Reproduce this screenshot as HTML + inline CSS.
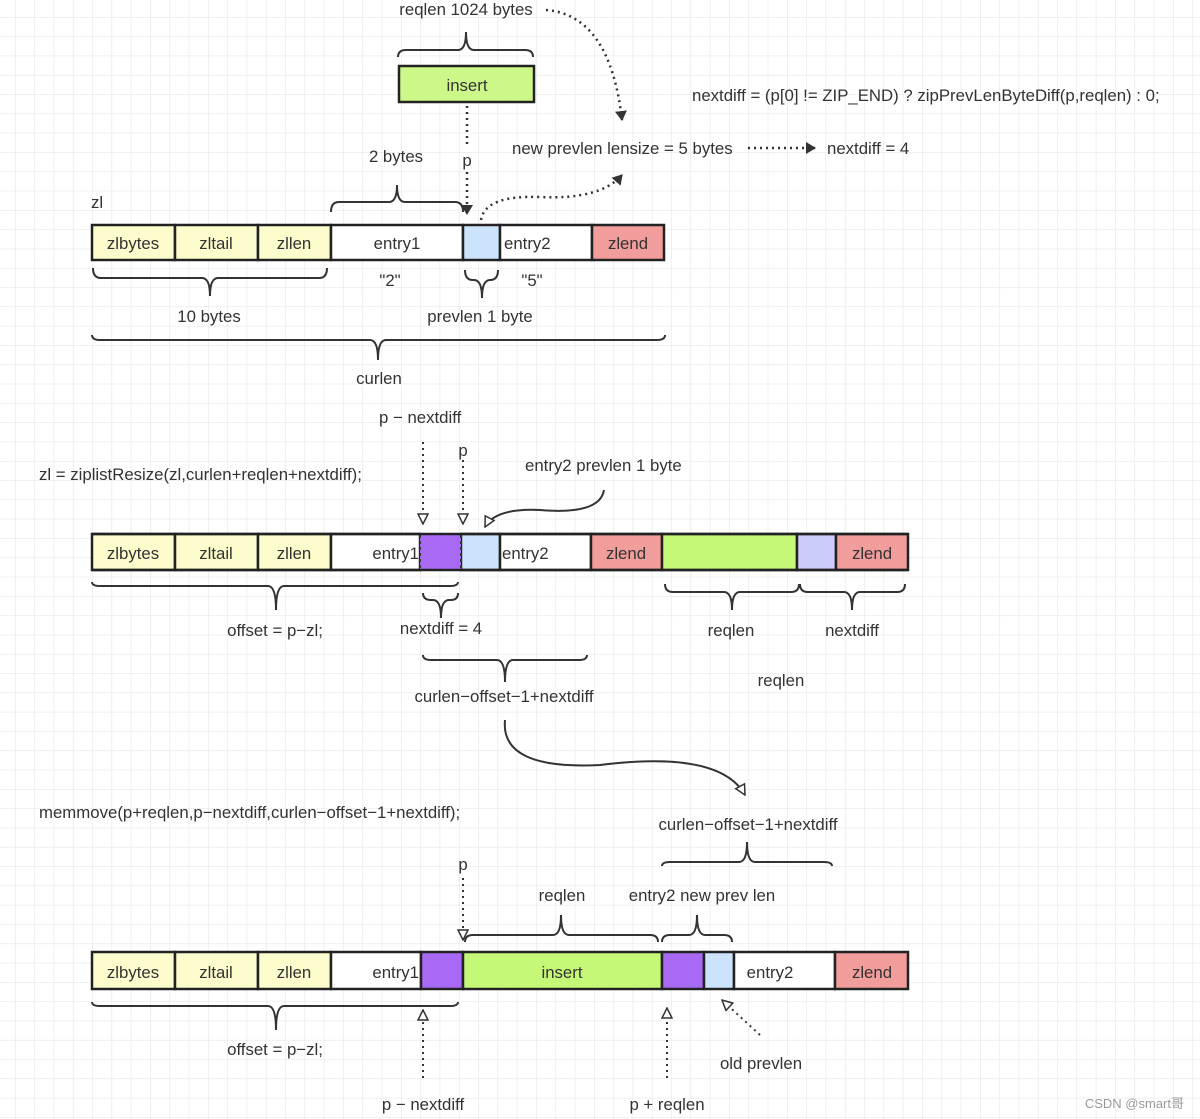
<!DOCTYPE html>
<html><head><meta charset="utf-8"><style>
html,body{margin:0;padding:0;background:#fff}
svg{display:block}
text{font-family:"Liberation Sans",sans-serif;font-size:16.8px;fill:#333}
.b{fill:none;stroke:#333;stroke-width:2}
.bx{stroke:#222;stroke-width:2.5}
</style></head><body>
<svg width="1200" height="1119" viewBox="0 0 1200 1119" xmlns="http://www.w3.org/2000/svg">
<defs>
<pattern id="g" x="15" y="17" width="19.3" height="19.3" patternUnits="userSpaceOnUse">
<path d="M0 0H19.3M0 0V19.3" stroke="#e6e6e6" stroke-width="1.2" fill="none"/>
</pattern>
<marker id="af" markerWidth="10" markerHeight="12" refX="9" refY="6" orient="auto" markerUnits="userSpaceOnUse"><path d="M0 0L10 6L0 12z" fill="#333"/></marker>
<marker id="ah" markerWidth="12" markerHeight="12" refX="11" refY="6" orient="auto" markerUnits="userSpaceOnUse"><path d="M1 1L11 6L1 11z" fill="#fff" stroke="#333" stroke-width="1.5"/></marker>
</defs>
<rect width="1200" height="1119" fill="url(#g)"/>

<!-- Row 1 -->
<rect x="399" y="66" width="135" height="36" fill="#ccf88a" class="bx"/>
<text x="467" y="91" text-anchor="middle">insert</text>
<g class="bx">
<rect x="92" y="225" width="83" height="35" fill="#fcfccc"/>
<rect x="175" y="225" width="83" height="35" fill="#fcfccc"/>
<rect x="258" y="225" width="73" height="35" fill="#fcfccc"/>
<rect x="331" y="225" width="132" height="35" fill="#fff"/>
<rect x="463" y="225" width="37" height="35" fill="#cce4fb"/>
<rect x="500" y="225" width="92" height="35" fill="#fff"/>
<rect x="592" y="225" width="72" height="35" fill="#f19d9b"/>
</g>
<text x="133" y="249" text-anchor="middle">zlbytes</text>
<text x="216" y="249" text-anchor="middle">zltail</text>
<text x="294" y="249" text-anchor="middle">zllen</text>
<text x="397" y="249" text-anchor="middle">entry1</text>
<text x="504" y="249">entry2</text>
<text x="628" y="249" text-anchor="middle">zlend</text>

<text x="466" y="15" text-anchor="middle">reqlen 1024 bytes</text>
<text x="692" y="101">nextdiff = (p[0] != ZIP_END) ? zipPrevLenByteDiff(p,reqlen) : 0;</text>
<text x="512" y="154">new prevlen lensize = 5 bytes</text>
<text x="827" y="154">nextdiff = 4</text>
<text x="396" y="162" text-anchor="middle">2 bytes</text>
<text x="467" y="166" text-anchor="middle">p</text>
<text x="91" y="208">zl</text>
<text x="390" y="286" text-anchor="middle">"2"</text>
<text x="532" y="286" text-anchor="middle">"5"</text>
<text x="209" y="322" text-anchor="middle">10 bytes</text>
<text x="480" y="322" text-anchor="middle">prevlen 1 byte</text>
<text x="379" y="384" text-anchor="middle">curlen</text>

<path class="b" d="M398 57Q398 50 406 50L458 50Q466 50 466 32Q466 50 474 50L525 50Q533 50 533 57"/>
<path class="b" d="M331 212Q331 202 339 202L389 202Q397 202 397 185Q397 202 405 202L455 202Q463 202 463 212"/>
<path class="b" d="M93 268Q93 278 101 278L202 278Q210 278 210 296Q210 278 218 278L319 278Q327 278 327 268"/>
<path class="b" d="M465 270Q465 280 473 280L474 280Q482 280 482 298Q482 280 490 280L490 280Q498 280 498 270"/>
<path class="b" d="M92 335Q92 340 100 340L370 340Q378 340 378 360Q378 340 386 340L657 340Q665 340 665 335"/>

<path d="M467 106L467 146" stroke="#333" stroke-width="2.5" stroke-dasharray="2 4" fill="none"/>
<path d="M467 172L467 214" stroke="#333" stroke-width="2.5" stroke-dasharray="2 4" fill="none" marker-end="url(#af)"/>
<path d="M546 10Q610 15 622 120" stroke="#333" stroke-width="2.5" stroke-dasharray="2 4" fill="none" marker-end="url(#af)"/>
<path d="M481 220Q485 195 540 197Q600 200 622 175" stroke="#333" stroke-width="2.5" stroke-dasharray="2 4" fill="none" marker-end="url(#af)"/>
<path d="M748 148L815 148" stroke="#333" stroke-width="2.5" stroke-dasharray="2 4" fill="none" marker-end="url(#af)"/>

<!-- Row 2 -->
<text x="379" y="423">p − nextdiff</text>
<text x="463" y="456" text-anchor="middle">p</text>
<text x="39" y="480">zl = ziplistResize(zl,curlen+reqlen+nextdiff);</text>
<text x="525" y="471">entry2 prevlen 1 byte</text>
<g class="bx">
<rect x="92" y="534" width="83" height="36" fill="#fcfccc"/>
<rect x="175" y="534" width="83" height="36" fill="#fcfccc"/>
<rect x="258" y="534" width="73" height="36" fill="#fcfccc"/>
<rect x="331" y="534" width="89" height="36" fill="#fff"/>
<rect x="461" y="534" width="39" height="36" fill="#cce4fb"/>
<rect x="500" y="534" width="91" height="36" fill="#fff"/>
<rect x="591" y="534" width="71" height="36" fill="#f19d9b"/>
<rect x="662" y="534" width="135" height="36" fill="#c6f878"/>
<rect x="797" y="534" width="39" height="36" fill="#ccccfb"/>
<rect x="836" y="534" width="72" height="36" fill="#f19d9b"/>
</g>
<rect x="420" y="534" width="41" height="36" fill="#a86af5" stroke="#333" stroke-width="2" stroke-dasharray="3 3"/>
<line x1="92" y1="534" x2="908" y2="534" stroke="#222" stroke-width="2.5"/>
<line x1="92" y1="570" x2="908" y2="570" stroke="#222" stroke-width="2.5"/>
<text x="133" y="559" text-anchor="middle">zlbytes</text>
<text x="216" y="559" text-anchor="middle">zltail</text>
<text x="294" y="559" text-anchor="middle">zllen</text>
<text x="419" y="559" text-anchor="end">entry1</text>
<text x="502" y="559">entry2</text>
<text x="626" y="559" text-anchor="middle">zlend</text>
<text x="872" y="559" text-anchor="middle">zlend</text>

<path d="M423 442L423 524" stroke="#333" stroke-width="2" stroke-dasharray="2 4" fill="none" marker-end="url(#ah)"/>
<path d="M463 460L463 524" stroke="#333" stroke-width="2" stroke-dasharray="2 4" fill="none" marker-end="url(#ah)"/>
<path d="M604 490Q600 515 540 510Q495 508 485 527" stroke="#333" stroke-width="2" fill="none" marker-end="url(#ah)"/>

<path class="b" d="M92 582Q92 586 100 586L268 586Q276 586 276 610Q276 586 284 586L450 586Q458 586 458 582"/>
<path class="b" d="M423 593Q423 600 431 600L433 600Q441 600 441 618Q441 600 449 600L451 600Q458 600 458 593"/>
<path class="b" d="M665 584Q665 592 673 592L724 592Q732 592 732 610Q732 592 740 592L791 592Q799 592 799 584"/>
<path class="b" d="M800 584Q800 592 808 592L844 592Q852 592 852 610Q852 592 860 592L897 592Q905 592 905 584"/>
<path class="b" d="M423 655Q423 660 431 660L497 660Q505 660 505 682Q505 660 513 660L579 660Q587 660 587 655"/>
<text x="275" y="636" text-anchor="middle">offset = p−zl;</text>
<text x="441" y="634" text-anchor="middle">nextdiff = 4</text>
<text x="731" y="636" text-anchor="middle">reqlen</text>
<text x="852" y="636" text-anchor="middle">nextdiff</text>
<text x="781" y="686" text-anchor="middle">reqlen</text>
<text x="504" y="702" text-anchor="middle">curlen−offset−1+nextdiff</text>
<path d="M505 720Q500 770 600 765Q720 750 745 795" stroke="#333" stroke-width="2" fill="none" marker-end="url(#ah)"/>

<!-- Row 3 -->
<text x="39" y="818">memmove(p+reqlen,p−nextdiff,curlen−offset−1+nextdiff);</text>
<text x="748" y="830" text-anchor="middle">curlen−offset−1+nextdiff</text>
<text x="463" y="870" text-anchor="middle">p</text>
<text x="562" y="901" text-anchor="middle">reqlen</text>
<text x="702" y="901" text-anchor="middle">entry2 new prev len</text>
<path class="b" d="M662 866Q662 862 670 862L739 862Q747 862 747 842Q747 862 755 862L824 862Q832 862 832 866"/>
<path class="b" d="M465 942Q465 935 473 935L553 935Q561 935 561 915Q561 935 569 935L650 935Q658 935 658 942"/>
<path class="b" d="M662 942Q662 935 670 935L689 935Q697 935 697 915Q697 935 705 935L724 935Q732 935 732 942"/>
<path d="M463 878L463 940" stroke="#333" stroke-width="2" stroke-dasharray="2 4" fill="none" marker-end="url(#ah)"/>
<g class="bx">
<rect x="92" y="952" width="83" height="37" fill="#fcfccc"/>
<rect x="175" y="952" width="83" height="37" fill="#fcfccc"/>
<rect x="258" y="952" width="73" height="37" fill="#fcfccc"/>
<rect x="331" y="952" width="90" height="37" fill="#fff"/>
<rect x="421" y="952" width="42" height="37" fill="#a86af5"/>
<rect x="463" y="952" width="199" height="37" fill="#c6f878"/>
<rect x="662" y="952" width="42" height="37" fill="#a86af5"/>
<rect x="704" y="952" width="30" height="37" fill="#cce4fb"/>
<rect x="734" y="952" width="101" height="37" fill="#fff"/>
<rect x="835" y="952" width="73" height="37" fill="#f19d9b"/>
</g>
<text x="133" y="978" text-anchor="middle">zlbytes</text>
<text x="216" y="978" text-anchor="middle">zltail</text>
<text x="294" y="978" text-anchor="middle">zllen</text>
<text x="419" y="978" text-anchor="end">entry1</text>
<text x="562" y="978" text-anchor="middle">insert</text>
<text x="770" y="978" text-anchor="middle">entry2</text>
<text x="872" y="978" text-anchor="middle">zlend</text>
<path class="b" d="M92 1002Q92 1006 100 1006L268 1006Q276 1006 276 1030Q276 1006 284 1006L450 1006Q458 1006 458 1002"/>
<path d="M423 1078L423 1010" stroke="#333" stroke-width="2" stroke-dasharray="2 4" fill="none" marker-end="url(#ah)"/>
<path d="M667 1078L667 1008" stroke="#333" stroke-width="2" stroke-dasharray="2 4" fill="none" marker-end="url(#ah)"/>
<path d="M760 1035L722 1000" stroke="#333" stroke-width="2" stroke-dasharray="2 4" fill="none" marker-end="url(#ah)"/>
<text x="275" y="1055" text-anchor="middle">offset = p−zl;</text>
<text x="761" y="1069" text-anchor="middle">old prevlen</text>
<text x="423" y="1110" text-anchor="middle">p − nextdiff</text>
<text x="667" y="1110" text-anchor="middle">p + reqlen</text>
<text x="1184" y="1108" text-anchor="end" style="font-size:13px;fill:#999">CSDN @smart哥</text>
</svg>
</body></html>
